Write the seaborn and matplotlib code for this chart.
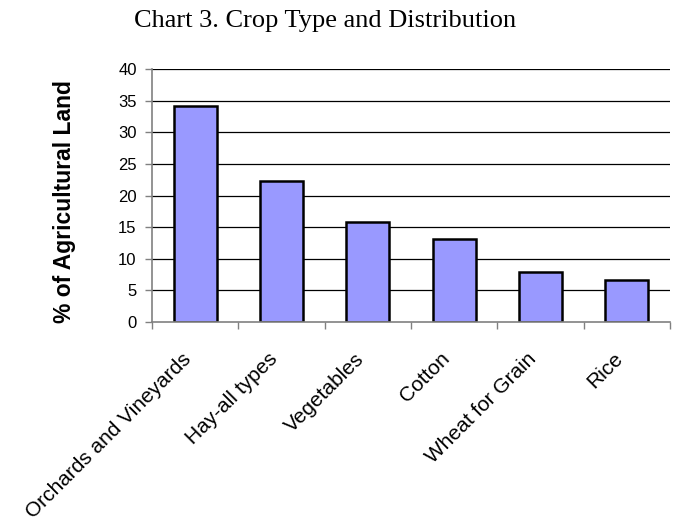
import matplotlib
matplotlib.use("Agg")
import matplotlib.pyplot as plt
import matplotlib.transforms as mtransforms
import seaborn as sns
import pandas as pd
import numpy as np

# Share of agricultural land by crop type (%)
crops = ["Orchards and Vineyards", "Hay-all types", "Vegetables",
         "Cotton", "Wheat for Grain", "Rice"]
share = [34.2, 22.3, 15.8, 13.1, 7.9, 6.6]
y_ticks = [0, 5, 10, 15, 20, 25, 30, 35, 40]

df = pd.DataFrame({"crop": crops, "share": share})

sns.set_theme(style="white")
plt.rcParams["font.family"] = ["Liberation Sans", "DejaVu Sans"]

fig = plt.figure(figsize=(6.83, 5.22), dpi=100)
ax = fig.add_axes([152 / 683, 1 - 322 / 522, (670 - 152) / 683, (322 - 69) / 522])

sns.barplot(data=df, x="crop", y="share", ax=ax, color="#9999FF",
            saturation=1, width=0.5, edgecolor="black", linewidth=1.8,
            zorder=3)
for p in ax.patches:
    p.set_facecolor("#9999FF")

ax.set_xlim(-0.5, len(crops) - 0.5)
ax.set_ylim(0, 40)
ax.set_yticks(y_ticks)
ax.set_yticklabels([str(v) for v in y_ticks], fontsize=12, color="black")

# horizontal gridlines
for v in y_ticks[1:]:
    ax.axhline(v, color="black", linewidth=0.9, zorder=1)

# spines
for s in ["top", "right"]:
    ax.spines[s].set_visible(False)
ax.spines["left"].set_color("#808080")
ax.spines["bottom"].set_color("#808080")
ax.spines["left"].set_linewidth(1.2)
ax.spines["bottom"].set_linewidth(1.2)
ax.spines["bottom"].set_zorder(4)

ax.tick_params(axis="y", which="major", direction="out", length=5,
               width=1, color="#808080", pad=6, left=True)

# category boundary ticks on the x axis
ax.set_xticks(np.arange(-0.5, len(crops), 1.0), minor=True)
ax.tick_params(axis="x", which="minor", direction="out", length=5,
               width=1, color="#808080", bottom=True)
ax.tick_params(axis="x", which="major", length=0, pad=10)
ax.set_xticks(range(len(crops)))
ax.set_xticklabels(crops, rotation=45, ha="right", va="center",
                   rotation_mode="anchor", fontsize=15, color="black")
shift = mtransforms.ScaledTranslation(-7 / 100, -20 / 100, fig.dpi_scale_trans)
for lbl in ax.get_xticklabels():
    lbl.set_transform(lbl.get_transform() + shift)
ax.set_xlabel("")
ax.set_ylabel("")

fig.text(65 / 683, 1 - 202 / 522, "% of Agricultural Land", rotation=90,
         ha="center", va="center", fontsize=16.5, fontweight="bold",
         color="black")
fig.text(325 / 683, 1 - 21 / 522, "Chart 3. Crop Type and Distribution",
         ha="center", va="center", fontsize=19,
         family=["Liberation Serif", "DejaVu Serif"], color="black")

fig.savefig("out.png", dpi=100)
